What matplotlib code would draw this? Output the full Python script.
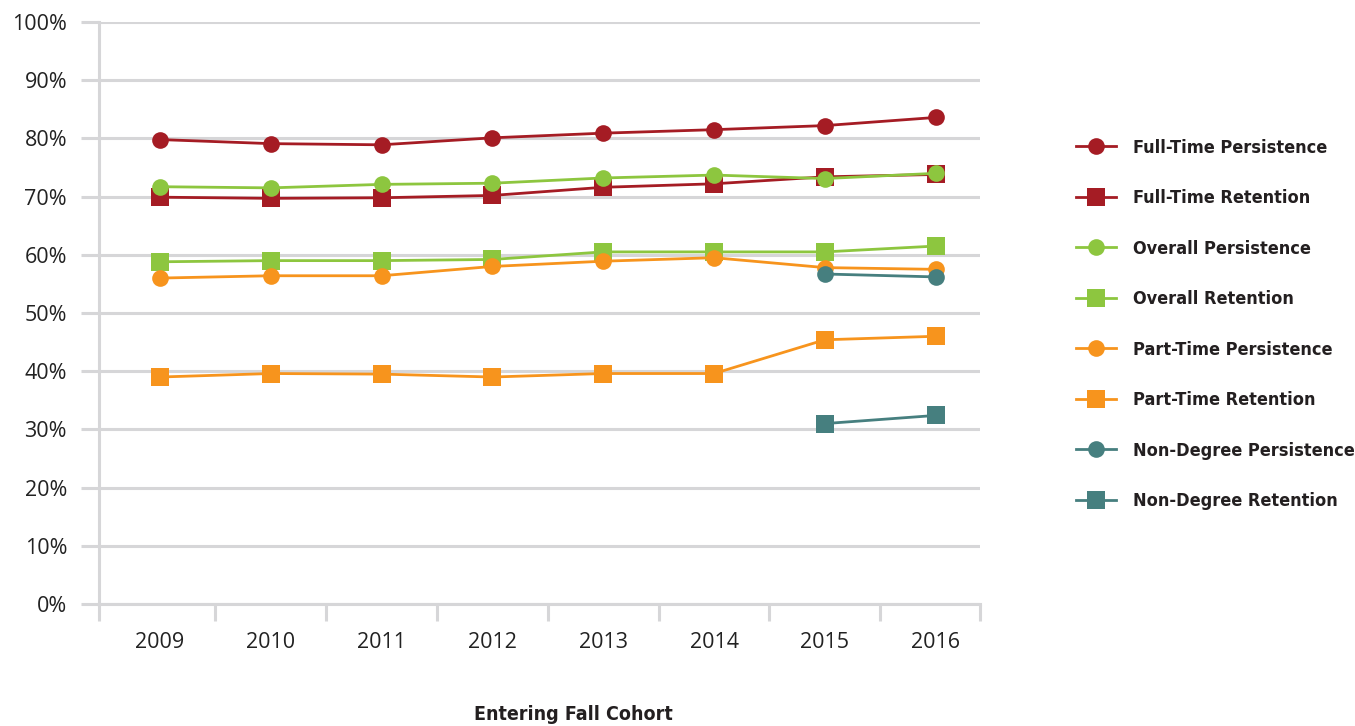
"""Persistence and retention rates by entering fall cohort"""
import matplotlib
matplotlib.use("Agg")
import matplotlib.pyplot as plt
import numpy as np

# Data (percent)
years = ["2009", "2010", "2011", "2012", "2013", "2014", "2015", "2016"]

ft_persist = [79.8, 79.1, 78.9, 80.1, 80.9, 81.5, 82.2, 83.6]
ft_retain = [69.9, 69.7, 69.8, 70.2, 71.6, 72.2, 73.4, 73.8]
ov_persist = [71.7, 71.5, 72.1, 72.3, 73.2, 73.7, 73.1, 74.0]
ov_retain = [58.8, 59.0, 59.0, 59.2, 60.5, 60.5, 60.5, 61.5]
pt_persist = [56.0, 56.4, 56.4, 58.0, 58.9, 59.5, 57.8, 57.5]
pt_retain = [39.0, 39.6, 39.5, 39.0, 39.6, 39.6, 45.4, 46.0]
nd_persist = [None, None, None, None, None, None, 56.7, 56.2]
nd_retain = [None, None, None, None, None, None, 31.0, 32.4]

red = "#A51C24"
green = "#8DC63F"
orange = "#F7941D"
teal = "#467F7F"
grid_c = "#D6D6D8"

series = [
    ("Full-Time Persistence", ft_persist, red, "o"),
    ("Full-Time Retention", ft_retain, red, "s"),
    ("Overall Persistence", ov_persist, green, "o"),
    ("Overall Retention", ov_retain, green, "s"),
    ("Part-Time Persistence", pt_persist, orange, "o"),
    ("Part-Time Retention", pt_retain, orange, "s"),
    ("Non-Degree Persistence", nd_persist, teal, "o"),
    ("Non-Degree Retention", nd_retain, teal, "s"),
]

tick_font = "Open Sans"
bold_font = ["DejaVu Sans"]

fig = plt.figure(figsize=(13.55, 7.26), dpi=100, facecolor="w")
ax = fig.add_axes([99 / 1355, 1 - 604 / 726, (980 - 99) / 1355, (604 - 22) / 726])

x = np.arange(len(years))
for label, vals, c, m in series:
    v = np.array([np.nan if a is None else a for a in vals], dtype=float)
    ax.plot(x, v, color=c, lw=2.0, marker=m,
            markersize=12 if m == "o" else 12.5,
            markeredgewidth=0, label=label, zorder=3)

xmin, xmax = -0.55, 7.4
ax.set_xlim(xmin, xmax)
ax.set_ylim(0, 100)

# y grid with stubs sticking out left of the axis
ax.set_yticks(np.arange(0, 101, 10))
ax.set_yticklabels([f"{v}%" for v in range(0, 101, 10)])
ax.yaxis.grid(True, color=grid_c, lw=2.2, zorder=0)
ax.tick_params(axis="y", length=13, width=2.2, color=grid_c, pad=10,
               labelsize=15.5, labelcolor="#222222")

# x labels at categories, tick marks at category boundaries
ax.set_xticks(x)
ax.set_xticklabels(years)
ax.set_xticks([xmin] + list(np.arange(0.5, 7, 1.0)) + [xmax], minor=True)
ax.tick_params(axis="x", which="major", length=0, pad=20,
               labelsize=15.5, labelcolor="#222222")
ax.tick_params(axis="x", which="minor", length=12, width=2.2, color=grid_c)

for lab in ax.get_xticklabels() + ax.get_yticklabels():
    lab.set_fontfamily(tick_font)

for s in ["top", "right"]:
    ax.spines[s].set_visible(False)
ax.spines["left"].set_color(grid_c)
ax.spines["left"].set_linewidth(2.2)
ax.spines["bottom"].set_color(grid_c)
ax.spines["bottom"].set_linewidth(2.2)
ax.set_axisbelow(True)

fig.text(573 / 1355, 1 - 714 / 726, "Entering Fall Cohort", ha="center",
         va="center", fontsize=14, fontweight="bold", family=bold_font,
         fontstretch="condensed", color="#231F20")

leg = ax.legend(loc="center left", bbox_to_anchor=(1076 / 1355, 1 - 324.5 / 726),
                bbox_transform=fig.transFigure, frameon=False, borderpad=0,
                borderaxespad=0, handlelength=2.2, handletextpad=0.95,
                labelspacing=1.8, prop={"family": bold_font, "weight": "bold",
                                        "stretch": "condensed", "size": 13})
for t in leg.get_texts():
    t.set_color("#231F20")

plt.savefig("out.png", dpi=100, facecolor="w")
